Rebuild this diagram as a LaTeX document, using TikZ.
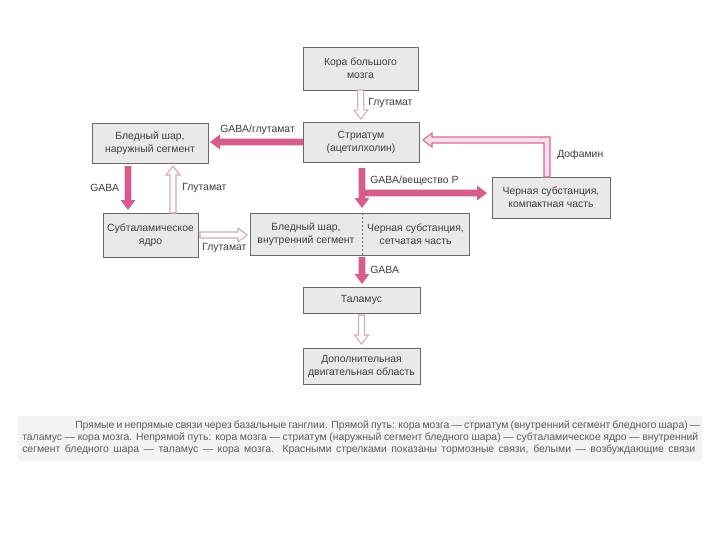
\documentclass[tikz,border=0pt]{standalone}
\usepackage{fontspec}
\setmainfont{Liberation Sans}
\usetikzlibrary{calc}
\definecolor{pinkA}{RGB}{214,92,140}
\definecolor{hollowline}{RGB}{214,168,186}
\definecolor{dopaline}{RGB}{212,105,150}
\definecolor{dopafill}{RGB}{247,222,232}
\definecolor{boxfill}{RGB}{233,233,233}
\definecolor{boxline}{RGB}{105,105,105}
\definecolor{txt}{RGB}{62,62,62}
\definecolor{captxt}{RGB}{92,92,92}
\definecolor{capband}{RGB}{243,243,243}
% style, shaft half width, head half width, head length, start, end
\newcommand\arrowpoly[6]{%
  \path ($#6!#4!#5$) coordinate (ab);
  \path[#1] ($#5!#2!90:#6$) -- ($(ab)!#2!90:#6$) -- ($(ab)!#3!90:#6$) -- #6
    -- ($(ab)!#3!-90:#6$) -- ($(ab)!#2!-90:#6$) -- ($#5!#2!-90:#6$) -- cycle;}
\newcommand\solidarrow[2]{\arrowpoly{solidarr}{2.6pt}{5.6pt}{7.5pt}{#1}{#2}}
\newcommand\hollowarrow[2]{\arrowpoly{hollowarr}{2.25pt}{5.25pt}{6.75pt}{#1}{#2}}
\begin{document}
\begin{tikzpicture}[x=0.75pt,y=-0.75pt,
  every node/.style={font=\fontsize{7.8pt}{9.8pt}\selectfont, text=txt},
  box/.style={draw=boxline, fill=boxfill, line width=0.7pt, inner sep=0pt, outer sep=0pt, align=center},
  boxfilled/.style={fill=boxfill, inner sep=0pt, outer sep=0pt, align=center},
  lbl/.style={anchor=west, inner sep=0pt},
  solidarr/.style={fill=pinkA},
  hollowarr/.style={draw=hollowline, fill=white, line width=0.8pt, line join=miter},
  dopaarr/.style={draw=dopaline, fill=dopafill, line width=0.8pt, line join=miter},
  captionline/.style={anchor=base west, inner sep=0pt, text=captxt, font=\fontsize{7.8pt}{9pt}\selectfont}]
\useasboundingbox (0,0) rectangle (720,540);
\fill[white] (0,0) rectangle (720,540);

% boxes
\node[box, minimum width=86.25pt, minimum height=32.25pt] (ctx) at (360.5,68.5) {Кора большого\\мозга};
\node[box, minimum width=87pt, minimum height=30pt] (str) at (361,142) {Стриатум\\(ацетилхолин)};
\node[box, minimum width=87pt, minimum height=30pt] (gpe) at (150,143) {Бледный шар,\\наружный сегмент};
\node[box, minimum width=71.25pt, minimum height=33pt] (stn) at (150.5,235) {Субталамическое\\ядро};
\node[boxfilled, minimum width=84pt, minimum height=31.5pt] (gpi) at (306,234) {Бледный шар,\\внутренний сегмент};
\node[boxfilled, minimum width=80.25pt, minimum height=31.5pt] (snr) at (415.5,234) {Черная субстанция,\\сетчатая часть};
\draw[boxline, line width=0.7pt] (gpi.north west) rectangle (snr.south east);
\draw[boxline, line width=0.5pt, dash pattern=on 1.5pt off 1.5pt] (gpi.north east) -- (gpi.south east);
\node[box, minimum width=88.5pt, minimum height=30.75pt] (snc) at (551,197.5) {Черная субстанция,\\компактная часть};
\node[box, minimum width=87.75pt, minimum height=19.5pt] (thal) at (361.5,300) {Таламус};
\node[box, minimum width=87.75pt, minimum height=27pt] (sma) at (361.5,366) {Дополнительная\\двигательная область};

% connector end points
\coordinate (a1s) at (ctx.south);
\coordinate (a1e) at ($(str.north)+(0,-3)$);
\coordinate (a2s) at (str.west);
\coordinate (a2e) at ($(gpe.east |- str.west)+(2,0)$);
\coordinate (a3s) at ($(gpe.south west)+(36,3)$);
\coordinate (a3e) at ($(a3s |- stn.north)+(0,-3)$);
\coordinate (a4s) at ($(stn.north west)+(70,0)$);
\coordinate (a4e) at ($(a4s |- gpe.south)+(0,3)$);
\coordinate (a5s) at ($(stn.east)+(2,0)$);
\coordinate (a5e) at ($(stn.east -| gpi.west)+(-3,0)$);
\coordinate (a6s) at ($(str.south -| gpi.north east)+(0,6)$);
\coordinate (a6e) at ($(gpi.north east)+(0,-5)$);
\coordinate (br) at ($(gpi.north east)+(0,-20)$);
\coordinate (a7e) at ($(br -| snc.west)+(-5,0)$);
\coordinate (ds) at ($(snc.north west)+(55,0)$);
\coordinate (dc) at ($(ds)+(0,-37)$);
\coordinate (dt) at ($(dc -| str.east)+(4,0)$);
\coordinate (a9s) at ($(gpi.south east)+(0,2)$);
\coordinate (a9e) at ($(gpi.south east |- thal.north)+(0,-3)$);
\coordinate (a10s) at ($(thal.south)+(0,2)$);
\coordinate (a10e) at ($(sma.north)+(0,-4)$);

% connectors
\hollowarrow{(a1s)}{(a1e)}
\solidarrow{(a2s)}{(a2e)}
\solidarrow{(a3s)}{(a3e)}
\hollowarrow{(a4s)}{(a4e)}
\hollowarrow{(a5s)}{(a5e)}
\solidarrow{(a6s)}{(a6e)}
\solidarrow{(br)}{(a7e)}
\solidarrow{(a9s)}{(a9e)}
\hollowarrow{(a10s)}{(a10e)}
\path[dopaarr] ($(ds)+(3,0)$) -- ($(dc)+(3,-3)$) -- ($(dt)+(9,-3)$) -- ($(dt)+(9,-7)$)
  -- (dt) -- ($(dt)+(9,7)$) -- ($(dt)+(9,3)$) -- ($(dc)+(-3,3)$) -- ($(ds)+(-3,0)$) -- cycle;

% labels
\node[lbl] (l1) at (368,103) {Глутамат};
\node[lbl] (l2) at (220,130) {GABA/глутамат};
\node[lbl] (l3) at (557,155) {Дофамин};
\node[lbl] (l4) at (90,188) {GABA};
\node[lbl] (l5) at (182,188) {Глутамат};
\node[lbl] (l6) at (202,248) {Глутамат};
\node[lbl] (l7) at (370,181) {GABA/вещество P};
\node[lbl] (l8) at (370,270) {GABA};

% caption
\fill[capband] (18,416) rectangle (702,461);
\node[captionline] (c1) at (75,428) {\makebox[468.75pt][s]{Прямые и непрямые связи через базальные ганглии. Прямой путь: кора мозга — стриатум (внутренний сегмент бледного шара) —}};
\node[captionline] (c2) at (22,440) {\makebox[507pt][s]{таламус — кора мозга. Непрямой путь: кора мозга — стриатум (наружный сегмент бледного шара) — субталамическое ядро — внутренний}};
\node[captionline] (c3) at (22,452) {\makebox[504.75pt][s]{сегмент бледного шара — таламус — кора мозга. Красными стрелками показаны тормозные связи, белыми — возбуждающие связи}};
\end{tikzpicture}
\end{document}
